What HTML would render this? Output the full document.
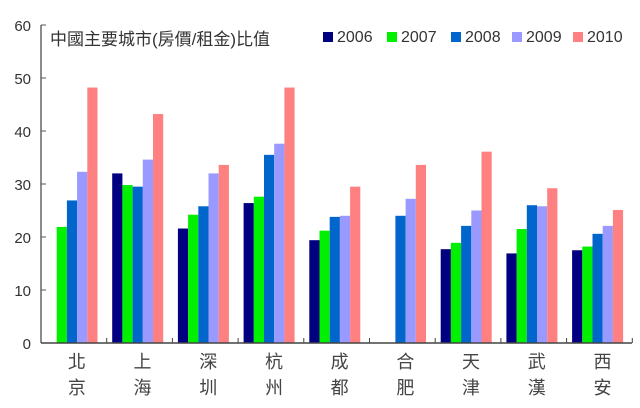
<!DOCTYPE html>
<html><head><meta charset="utf-8"><style>
html,body{margin:0;padding:0;background:#fff;}
svg{display:block;}
text{font-family:"Liberation Sans","Noto Sans CJK TC",sans-serif;}
</style></head><body>
<svg width="640" height="408" xmlns="http://www.w3.org/2000/svg">
<g id="bars"></g>
<line x1="41" y1="25" x2="41" y2="343" stroke="#666" stroke-width="1.5"/>
<line x1="41" y1="343" x2="632" y2="343" stroke="#444" stroke-width="1.5"/>
<g stroke="#555" stroke-width="1">
<line x1="41" y1="25" x2="46" y2="25"/><line x1="41" y1="78" x2="46" y2="78"/><line x1="41" y1="131" x2="46" y2="131"/><line x1="41" y1="184" x2="46" y2="184"/><line x1="41" y1="237" x2="46" y2="237"/><line x1="41" y1="290" x2="46" y2="290"/>
</g>
<g font-size="15" fill="#333" text-anchor="end">
<text x="31" y="31">60</text><text x="31" y="84">50</text><text x="31" y="137">40</text><text x="31" y="190">30</text><text x="31" y="243">20</text><text x="31" y="296">10</text><text x="31" y="349">0</text>
</g>
<text x="50" y="45" font-size="17" fill="#333">中國主要城市(房價/租金)比值</text>
<g font-size="16" fill="#333">
<rect x="323" y="32" width="10" height="10" fill="#000080"/><text x="337" y="42">2006</text>
<rect x="387" y="32" width="10" height="10" fill="#00f000"/><text x="401" y="42">2007</text>
<rect x="451" y="32" width="10" height="10" fill="#0066cc"/><text x="465" y="42">2008</text>
<rect x="512" y="32" width="10" height="10" fill="#9999ff"/><text x="526" y="42">2009</text>
<rect x="573" y="32" width="10" height="10" fill="#ff8080"/><text x="587" y="42">2010</text>
</g>
<g id="xl" font-size="18" fill="#444" text-anchor="middle"></g>
<g id="tk" stroke="#444" stroke-width="1"></g>
</svg>
<script>
var data=[["北","京",[null,21.9,26.9,32.3,48.2]],["上","海",[32,29.8,29.5,34.6,43.2]],["深","圳",[21.6,24.2,25.8,32,33.6]],["杭","州",[26.4,27.6,35.5,37.6,48.2]],["成","都",[19.4,21.2,23.8,24,29.5]],["合","肥",[null,null,24,27.2,33.6]],["天","津",[17.7,18.9,22.1,25,36.1]],["武","漢",[16.9,21.5,26,25.8,29.2]],["西","安",[17.5,18.2,20.6,22.1,25.1]]];
var cols=["#000080","#00f000","#0066cc","#9999ff","#ff8080"];
var ns="http://www.w3.org/2000/svg",b=document.getElementById("bars"),xl=document.getElementById("xl"),tk=document.getElementById("tk");
var W=65.7;
data.forEach(function(d,i){var x0=41+i*W;
d[2].forEach(function(v,j){if(v==null)return;var r=document.createElementNS(ns,"rect");var h=v*5.3;r.setAttribute("x",x0+5.5+j*10.2);r.setAttribute("y",343-h);r.setAttribute("width",10.2);r.setAttribute("height",h);r.setAttribute("fill",cols[j]);b.appendChild(r);});
var cx=x0+W/2+3;[d[0],d[1]].forEach(function(c,k){var t=document.createElementNS(ns,"text");t.setAttribute("x",cx);t.setAttribute("y",368+k*26);t.textContent=c;xl.appendChild(t);});
var l=document.createElementNS(ns,"line");var tx=x0+W;l.setAttribute("x1",tx);l.setAttribute("x2",tx);l.setAttribute("y1",338);l.setAttribute("y2",343);tk.appendChild(l);});
</script>
</body></html>
